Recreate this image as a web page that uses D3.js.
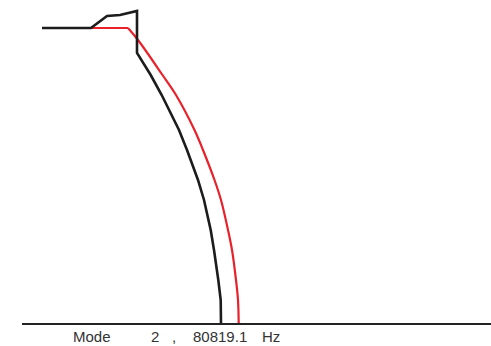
<!DOCTYPE html>
<html>
<head>
<meta charset="utf-8">
<script src="https://cdn.jsdelivr.net/npm/d3@7"></script>
<style>
  body { margin: 0; background: #fff; }
  svg { display: block; }
</style>
</head>
<body>
<div id="holder"></div>
<script>
// deformed shape (black) and reference shape (red), model units
var deformed = [
  [0, 29.6], [4.9, 29.6], [6.5, 30.8], [7.8, 30.9], [9.5, 31.3],
  [9.5, 27.1], [10.87, 24.9], [11.97, 22.9], [13.7, 19.4], [14.5, 17.4],
  [15.6, 14.4], [16.2, 12.4], [16.87, 9.4], [17.2, 7.4], [17.63, 4.4],
  [17.87, 2.4], [17.9, 0]
];
var undeformed = [
  [0, 29.6], [4.9, 29.6], [8.6, 29.6], [9.6, 28.4], [12.05, 24.9],
  [13.4, 22.9], [15.25, 19.4], [16.1, 17.4], [17.25, 14.4], [17.9, 12.4],
  [18.6, 9.4], [19.0, 7.4], [19.4, 4.4], [19.6, 2.4], [19.67, 0]
];
var labels = ['Mode', '2', ',', '80819.1', 'Hz'];
var labelPos = [0, 7.8, 9.9, 12, 18.9];

var fullWidth = 491;
var fullHeight = 346;

var svg = d3.select('#holder').append('svg')
  .attr('width', fullWidth)
  .attr('height', fullHeight);

var x = d3.scaleLinear().domain([0, 10]).range([42, 142]);
var y = d3.scaleLinear().domain([0, 10]).range([324, 224]);

var line = d3.line()
  .x(function(d) { return x(d[0]); })
  .y(function(d) { return y(d[1]); });

// red: straight top, then smooth bend down to the base
svg.append('path')
  .datum(undeformed.slice(0, 3))
  .attr('d', line.curve(d3.curveLinear))
  .attr('fill', 'none')
  .attr('stroke', '#e8212b')
  .attr('stroke-width', 2.2);

svg.append('path')
  .datum(undeformed.slice(2))
  .attr('d', line.curve(d3.curveCatmullRom.alpha(0.5)))
  .attr('fill', 'none')
  .attr('stroke', '#e8212b')
  .attr('stroke-width', 2.2);

// black keeps its sharp corners
svg.append('path')
  .datum(deformed)
  .attr('d', line.curve(d3.curveLinear))
  .attr('fill', 'none')
  .attr('stroke', '#1c1c1c')
  .attr('stroke-width', 2.6)
  .attr('stroke-linejoin', 'miter');

// base line
svg.append('line')
  .attr('x1', x(-2)).attr('x2', fullWidth)
  .attr('y1', y(0)).attr('y2', y(0))
  .attr('stroke', '#222')
  .attr('stroke-width', 2);

svg.selectAll('text.lbl')
    .data(labels)
  .enter().append('text')
    .classed('lbl', true)
    .attr('x', function(d, i) { return 73 + labelPos[i] * 10; })
    .attr('y', 342)
    .attr('font-family', 'Liberation Sans, Arial, sans-serif')
    .attr('font-size', 15)
    .attr('fill', '#333')
    .text(function(d) { return d; });
</script>
</body>
</html>
